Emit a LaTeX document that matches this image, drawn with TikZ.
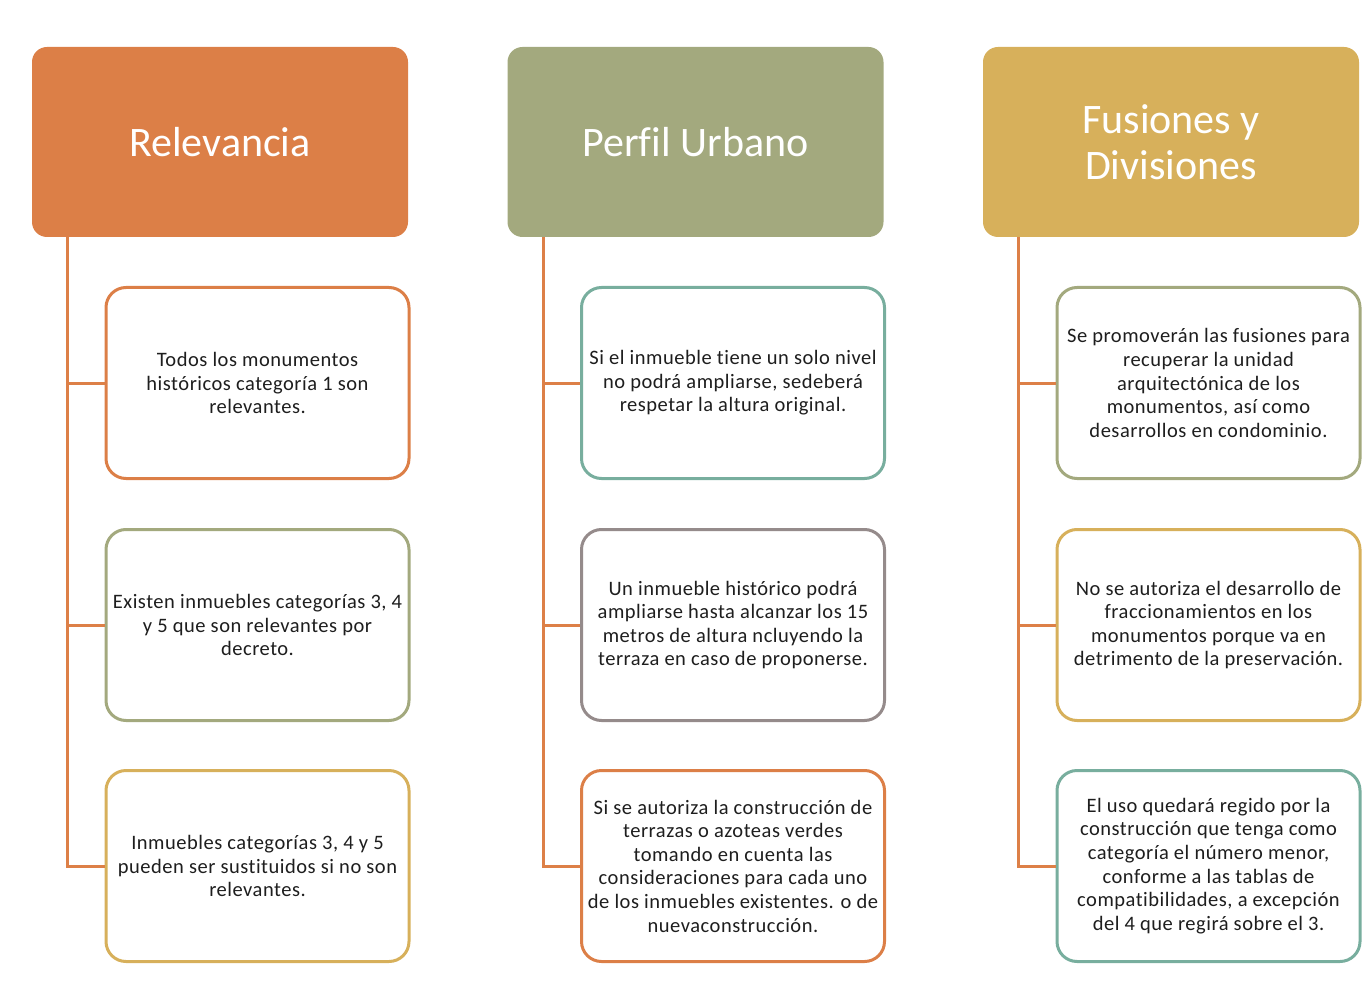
\documentclass[tikz,border=0pt]{standalone}
\usepackage{fontspec}
\setmainfont{Carlito}[RawFeature=-liga]
\newfontfamily\childfont[LetterSpace=2.5,RawFeature=-liga]{Carlito}
\definecolor{cOrange}{HTML}{DC7F47}
\definecolor{cOlive}{HTML}{A3A97E}
\definecolor{cGold}{HTML}{D7B05B}
\definecolor{cTeal}{HTML}{78AE9E}
\definecolor{cMauve}{HTML}{958B8B}
\definecolor{cLine}{HTML}{DD8047}
\definecolor{cText}{HTML}{1E1E1E}
\tikzset{
  header/.style={draw=none, fill=#1, rounded corners=15pt, minimum width=376pt, minimum height=190pt,
    text=white, align=center, font=\fontsize{42}{46.5}\selectfont, inner sep=0pt},
  child/.style={draw=#1, line width=3pt, fill=white, rounded corners=20pt, minimum width=303pt, minimum height=191pt,
    text=cText, align=center, font=\childfont\fontsize{20.5}{23.6}\selectfont, inner sep=0pt},
  conn/.style={draw=cLine, line width=3pt}
}
\begin{document}
\begin{tikzpicture}[x=1pt,y=-1pt]
\useasboundingbox (0,0) rectangle (1365,992);
% headers
\node[header=cOrange] (h1) at (220,142) {Relevancia};
\node[header=cOlive] (h2) at (695.5,142) {Perfil Urbano};
\node[header=cGold] (h3) at (1171,142) {Fusiones y\\Divisiones};
% column 1
\node[child=cOrange] (c11) at (257.5,383) {Todos los monumentos\\históricos categoría 1 son\\relevantes.};
\node[child=cOlive] (c12) at (257.5,625) {Existen inmuebles categorías 3, 4\\y 5 que son relevantes por\\decreto.};
\node[child=cGold] (c13) at (257.5,866) {Inmuebles categorías 3, 4 y 5\\pueden ser sustituidos si no son\\relevantes.};
% column 2
\node[child=cTeal] (c21) at (733,383) {Si el inmueble tiene un solo nivel\\no podrá ampliarse, sedeberá\\respetar la altura original.};
\node[child=cMauve] (c22) at (733,625) {Un inmueble histórico podrá\\ampliarse hasta alcanzar los 15\\metros de altura ncluyendo la\\terraza en caso de proponerse.};
\node[child=cOrange] (c23) at (733,866) {Si se autoriza la construcción de\\terrazas o azoteas verdes\\tomando en cuenta las\\consideraciones para cada uno\\de los inmuebles existentes. o de\\nuevaconstrucción.};
% column 3
\node[child=cOlive] (c31) at (1208.5,383) {Se promoverán las fusiones para\\recuperar la unidad\\arquitectónica de los\\monumentos, así como\\desarrollos en condominio.};
\node[child=cGold] (c32) at (1208.5,625) {No se autoriza el desarrollo de\\fraccionamientos en los\\monumentos porque va en\\detrimento de la preservación.};
\node[child=cTeal] (c33) at (1208.5,866) {El uso quedará regido por la\\construcción que tenga como\\categoría el número menor,\\conforme a las tablas de\\compatibilidades, a excepción\\del 4 que regirá sobre el 3.};
% connectors
\coordinate (t1) at ([xshift=36pt]h1.south west);
\coordinate (t2) at ([xshift=36pt]h2.south west);
\coordinate (t3) at ([xshift=36pt]h3.south west);
\draw[conn] (t1) |- (c13.west);
\draw[conn] (t1 |- c11.west) -- (c11.west);
\draw[conn] (t1 |- c12.west) -- (c12.west);
\draw[conn] (t2) |- (c23.west);
\draw[conn] (t2 |- c21.west) -- (c21.west);
\draw[conn] (t2 |- c22.west) -- (c22.west);
\draw[conn] (t3) |- (c33.west);
\draw[conn] (t3 |- c31.west) -- (c31.west);
\draw[conn] (t3 |- c32.west) -- (c32.west);
\end{tikzpicture}
\end{document}
